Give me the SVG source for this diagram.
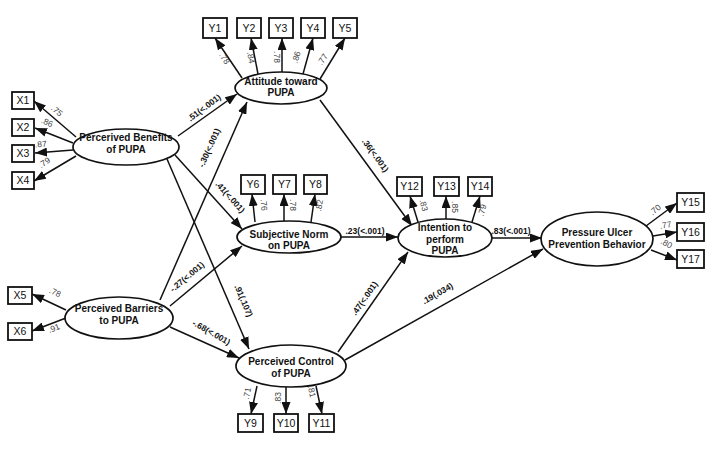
<svg xmlns="http://www.w3.org/2000/svg" width="712" height="449" viewBox="0 0 712 449">
<style>
.bg{fill:#fff}
.lv ellipse{fill:#fff;stroke:#111;stroke-width:1.7}
.lv text{font-family:"Liberation Sans",Arial,sans-serif;font-weight:bold;font-size:10px;fill:#111;text-anchor:middle}
.ob rect{fill:#fff;stroke:#111;stroke-width:1.8}
.ob text{font-family:"Liberation Sans",Arial,sans-serif;font-size:10.5px;fill:#111;text-anchor:middle}
.cn line{stroke:#111;stroke-width:1.5;marker-end:url(#ah)}
.ld{font-family:"Liberation Sans",Arial,sans-serif;font-size:8.5px;fill:#444;text-anchor:middle}
.pl{font-family:"Liberation Sans",Arial,sans-serif;font-size:8.5px;font-weight:bold;fill:#111;text-anchor:middle}
</style>
<defs>
<marker id="ah" markerUnits="userSpaceOnUse" markerWidth="12" markerHeight="9" refX="12" refY="4.5" orient="auto">
<path d="M0,0 L12,4.5 L0,9 z" fill="#111"/>
</marker>
</defs>
<rect class="bg" width="712" height="449"/>

<g id="connectors" class="cn">
<line x1="76" y1="137" x2="34" y2="101"/>
<line x1="73" y1="143" x2="35" y2="128"/>
<line x1="73" y1="150" x2="35" y2="153"/>
<line x1="76" y1="156" x2="34" y2="181"/>
<line x1="66" y1="310" x2="32" y2="294"/>
<line x1="66" y1="318" x2="32" y2="331"/>
<line x1="242" y1="78" x2="215" y2="38"/>
<line x1="258" y1="74" x2="251" y2="38"/>
<line x1="282" y1="72" x2="282" y2="38"/>
<line x1="303" y1="74" x2="313" y2="38"/>
<line x1="320" y1="79" x2="345" y2="38"/>
<line x1="255" y1="222" x2="252" y2="194"/>
<line x1="284" y1="221" x2="284" y2="194"/>
<line x1="311" y1="222" x2="315" y2="194"/>
<line x1="418" y1="222" x2="410" y2="196"/>
<line x1="446" y1="219" x2="446" y2="196"/>
<line x1="472" y1="222" x2="480" y2="196"/>
<line x1="646" y1="226" x2="677" y2="203"/>
<line x1="653" y1="236" x2="677" y2="232"/>
<line x1="651" y1="250" x2="677" y2="260"/>
<line x1="257" y1="386" x2="251" y2="414"/>
<line x1="286" y1="387" x2="286" y2="414"/>
<line x1="316" y1="386" x2="322" y2="414"/>
<line x1="178" y1="136" x2="237" y2="94"/>
<line x1="160" y1="300" x2="247" y2="102"/>
<line x1="175" y1="155" x2="242" y2="229"/>
<line x1="167" y1="159" x2="249" y2="349"/>
<line x1="170" y1="306" x2="242" y2="246"/>
<line x1="170" y1="327" x2="239" y2="358"/>
<line x1="320" y1="100" x2="412" y2="226"/>
<line x1="341" y1="237" x2="398" y2="237"/>
<line x1="338" y1="352" x2="408" y2="252"/>
<line x1="492" y1="238" x2="542" y2="238"/>
<line x1="345" y1="360" x2="543" y2="249"/>
</g>

<g id="labels">
<text class="ld" transform="translate(55,113) rotate(42)">.75</text>
<text class="ld" transform="translate(46,125) rotate(23)">.86</text>
<text class="ld" transform="translate(41,147) rotate(-5)">.87</text>
<text class="ld" transform="translate(46,165) rotate(-33)">.79</text>
<text class="ld" transform="translate(54,295) rotate(24)">.78</text>
<text class="ld" transform="translate(55,331) rotate(-21)">.91</text>
<text class="ld" transform="translate(222,60) rotate(57)">.78</text>
<text class="ld" transform="translate(248,58) rotate(80)">.84</text>
<text class="ld" transform="translate(274,57) rotate(90)">.78</text>
<text class="ld" transform="translate(299,58) rotate(-72)">.86</text>
<text class="ld" transform="translate(325,61) rotate(-58)">.77</text>
<text class="ld" transform="translate(261,205) rotate(84)">.76</text>
<text class="ld" transform="translate(290,205) rotate(90)">.78</text>
<text class="ld" transform="translate(322,206) rotate(-80)">.82</text>
<text class="ld" transform="translate(421,206) rotate(75)">.83</text>
<text class="ld" transform="translate(452,207) rotate(90)">.85</text>
<text class="ld" transform="translate(485,211) rotate(-74)">.79</text>
<text class="ld" transform="translate(657,212) rotate(-40)">.70</text>
<text class="ld" transform="translate(666,228) rotate(-10)">.77</text>
<text class="ld" transform="translate(665,246) rotate(30)">.80</text>
<text class="ld" transform="translate(250,394) rotate(-79)">.71</text>
<text class="ld" transform="translate(281,398) rotate(-90)">.83</text>
<text class="ld" transform="translate(309,392) rotate(78)">.81</text>
<text class="pl" transform="translate(206,110) rotate(-37)">.51(&lt;.001)</text>
<text class="pl" transform="translate(212,149) rotate(-66)">-.30(&lt;.001)</text>
<text class="pl" transform="translate(228,199) rotate(48)">.41(&lt;.001)</text>
<text class="pl" transform="translate(241,302) rotate(67)">.91(.107)</text>
<text class="pl" transform="translate(189,279) rotate(-40)">-.27(&lt;.001)</text>
<text class="pl" transform="translate(210,335) rotate(29.5)">-.68(&lt;.001)</text>
<text class="pl" transform="translate(373,157) rotate(54)">.36(&lt;.001)</text>
<text class="pl" transform="translate(365,234)">.23(&lt;.001)</text>
<text class="pl" transform="translate(367,300) rotate(-55)">.47(&lt;.001)</text>
<text class="pl" transform="translate(511,234)">.83(&lt;.001)</text>
<text class="pl" transform="translate(439,296) rotate(-29.5)">.19(.034)</text>
</g>

<g id="benefits" class="lv"><ellipse cx="126" cy="147" rx="53" ry="18"/><text x="126" y="141">Percerived Benefits</text><text x="126" y="153">of PUPA</text></g>
<g id="barriers" class="lv"><ellipse cx="119" cy="318" rx="54" ry="21"/><text x="119" y="312">Perceived Barriers</text><text x="119" y="324">to PUPA</text></g>
<g id="attitude" class="lv"><ellipse cx="281" cy="88" rx="46" ry="16"/><text x="281" y="85">Attitude toward</text><text x="281" y="96">PUPA</text></g>
<g id="subjnorm" class="lv"><ellipse cx="289" cy="237" rx="52" ry="16"/><text x="289" y="238">Subjective Norm</text><text x="289" y="249">on PUPA</text></g>
<g id="control" class="lv"><ellipse cx="291" cy="366" rx="55" ry="21"/><text x="291" y="365">Perceived Control</text><text x="291" y="377">of PUPA</text></g>
<g id="intention" class="lv"><ellipse cx="445" cy="238" rx="47" ry="19"/><text x="445" y="231">Intention to</text><text x="445" y="243">perform</text><text x="445" y="254">PUPA</text></g>
<g id="behavior" class="lv"><ellipse cx="597" cy="239" rx="56" ry="27"/><text x="597" y="236">Pressure Ulcer</text><text x="597" y="248">Prevention Behavior</text></g>

<g id="X1" class="ob"><rect x="12" y="92" width="22" height="17"/><text x="23" y="104">X1</text></g>
<g id="X2" class="ob"><rect x="12" y="119" width="22" height="17"/><text x="23" y="131">X2</text></g>
<g id="X3" class="ob"><rect x="12" y="145" width="22" height="17"/><text x="23" y="157">X3</text></g>
<g id="X4" class="ob"><rect x="12" y="172" width="22" height="17"/><text x="23" y="184">X4</text></g>
<g id="X5" class="ob"><rect x="8" y="287" width="24" height="17"/><text x="20" y="299">X5</text></g>
<g id="X6" class="ob"><rect x="8" y="323" width="24" height="17"/><text x="20" y="335">X6</text></g>
<g id="Y1" class="ob"><rect x="203" y="18" width="24" height="20"/><text x="215" y="32">Y1</text></g>
<g id="Y2" class="ob"><rect x="237" y="18" width="24" height="20"/><text x="249" y="32">Y2</text></g>
<g id="Y3" class="ob"><rect x="269" y="18" width="24" height="20"/><text x="281" y="32">Y3</text></g>
<g id="Y4" class="ob"><rect x="301" y="18" width="24" height="20"/><text x="313" y="32">Y4</text></g>
<g id="Y5" class="ob"><rect x="333" y="18" width="24" height="20"/><text x="345" y="32">Y5</text></g>
<g id="Y6" class="ob"><rect x="241" y="175" width="24" height="19"/><text x="253" y="188">Y6</text></g>
<g id="Y7" class="ob"><rect x="273" y="175" width="23" height="19"/><text x="284.5" y="188">Y7</text></g>
<g id="Y8" class="ob"><rect x="304" y="175" width="23" height="19"/><text x="315.5" y="188">Y8</text></g>
<g id="Y12" class="ob"><rect x="397" y="177" width="25" height="19"/><text x="409.5" y="190">Y12</text></g>
<g id="Y13" class="ob"><rect x="434" y="177" width="25" height="19"/><text x="446.5" y="190">Y13</text></g>
<g id="Y14" class="ob"><rect x="468" y="177" width="24" height="19"/><text x="480" y="190">Y14</text></g>
<g id="Y15" class="ob"><rect x="677" y="193" width="27" height="19"/><text x="690.5" y="206">Y15</text></g>
<g id="Y16" class="ob"><rect x="677" y="223" width="27" height="18"/><text x="690.5" y="236">Y16</text></g>
<g id="Y17" class="ob"><rect x="677" y="250" width="27" height="18"/><text x="690.5" y="263">Y17</text></g>
<g id="Y9" class="ob"><rect x="238" y="414" width="25" height="18"/><text x="250.5" y="427">Y9</text></g>
<g id="Y10" class="ob"><rect x="274" y="414" width="24" height="18"/><text x="286" y="427">Y10</text></g>
<g id="Y11" class="ob"><rect x="309" y="414" width="25" height="18"/><text x="321.5" y="427">Y11</text></g>
</svg>
